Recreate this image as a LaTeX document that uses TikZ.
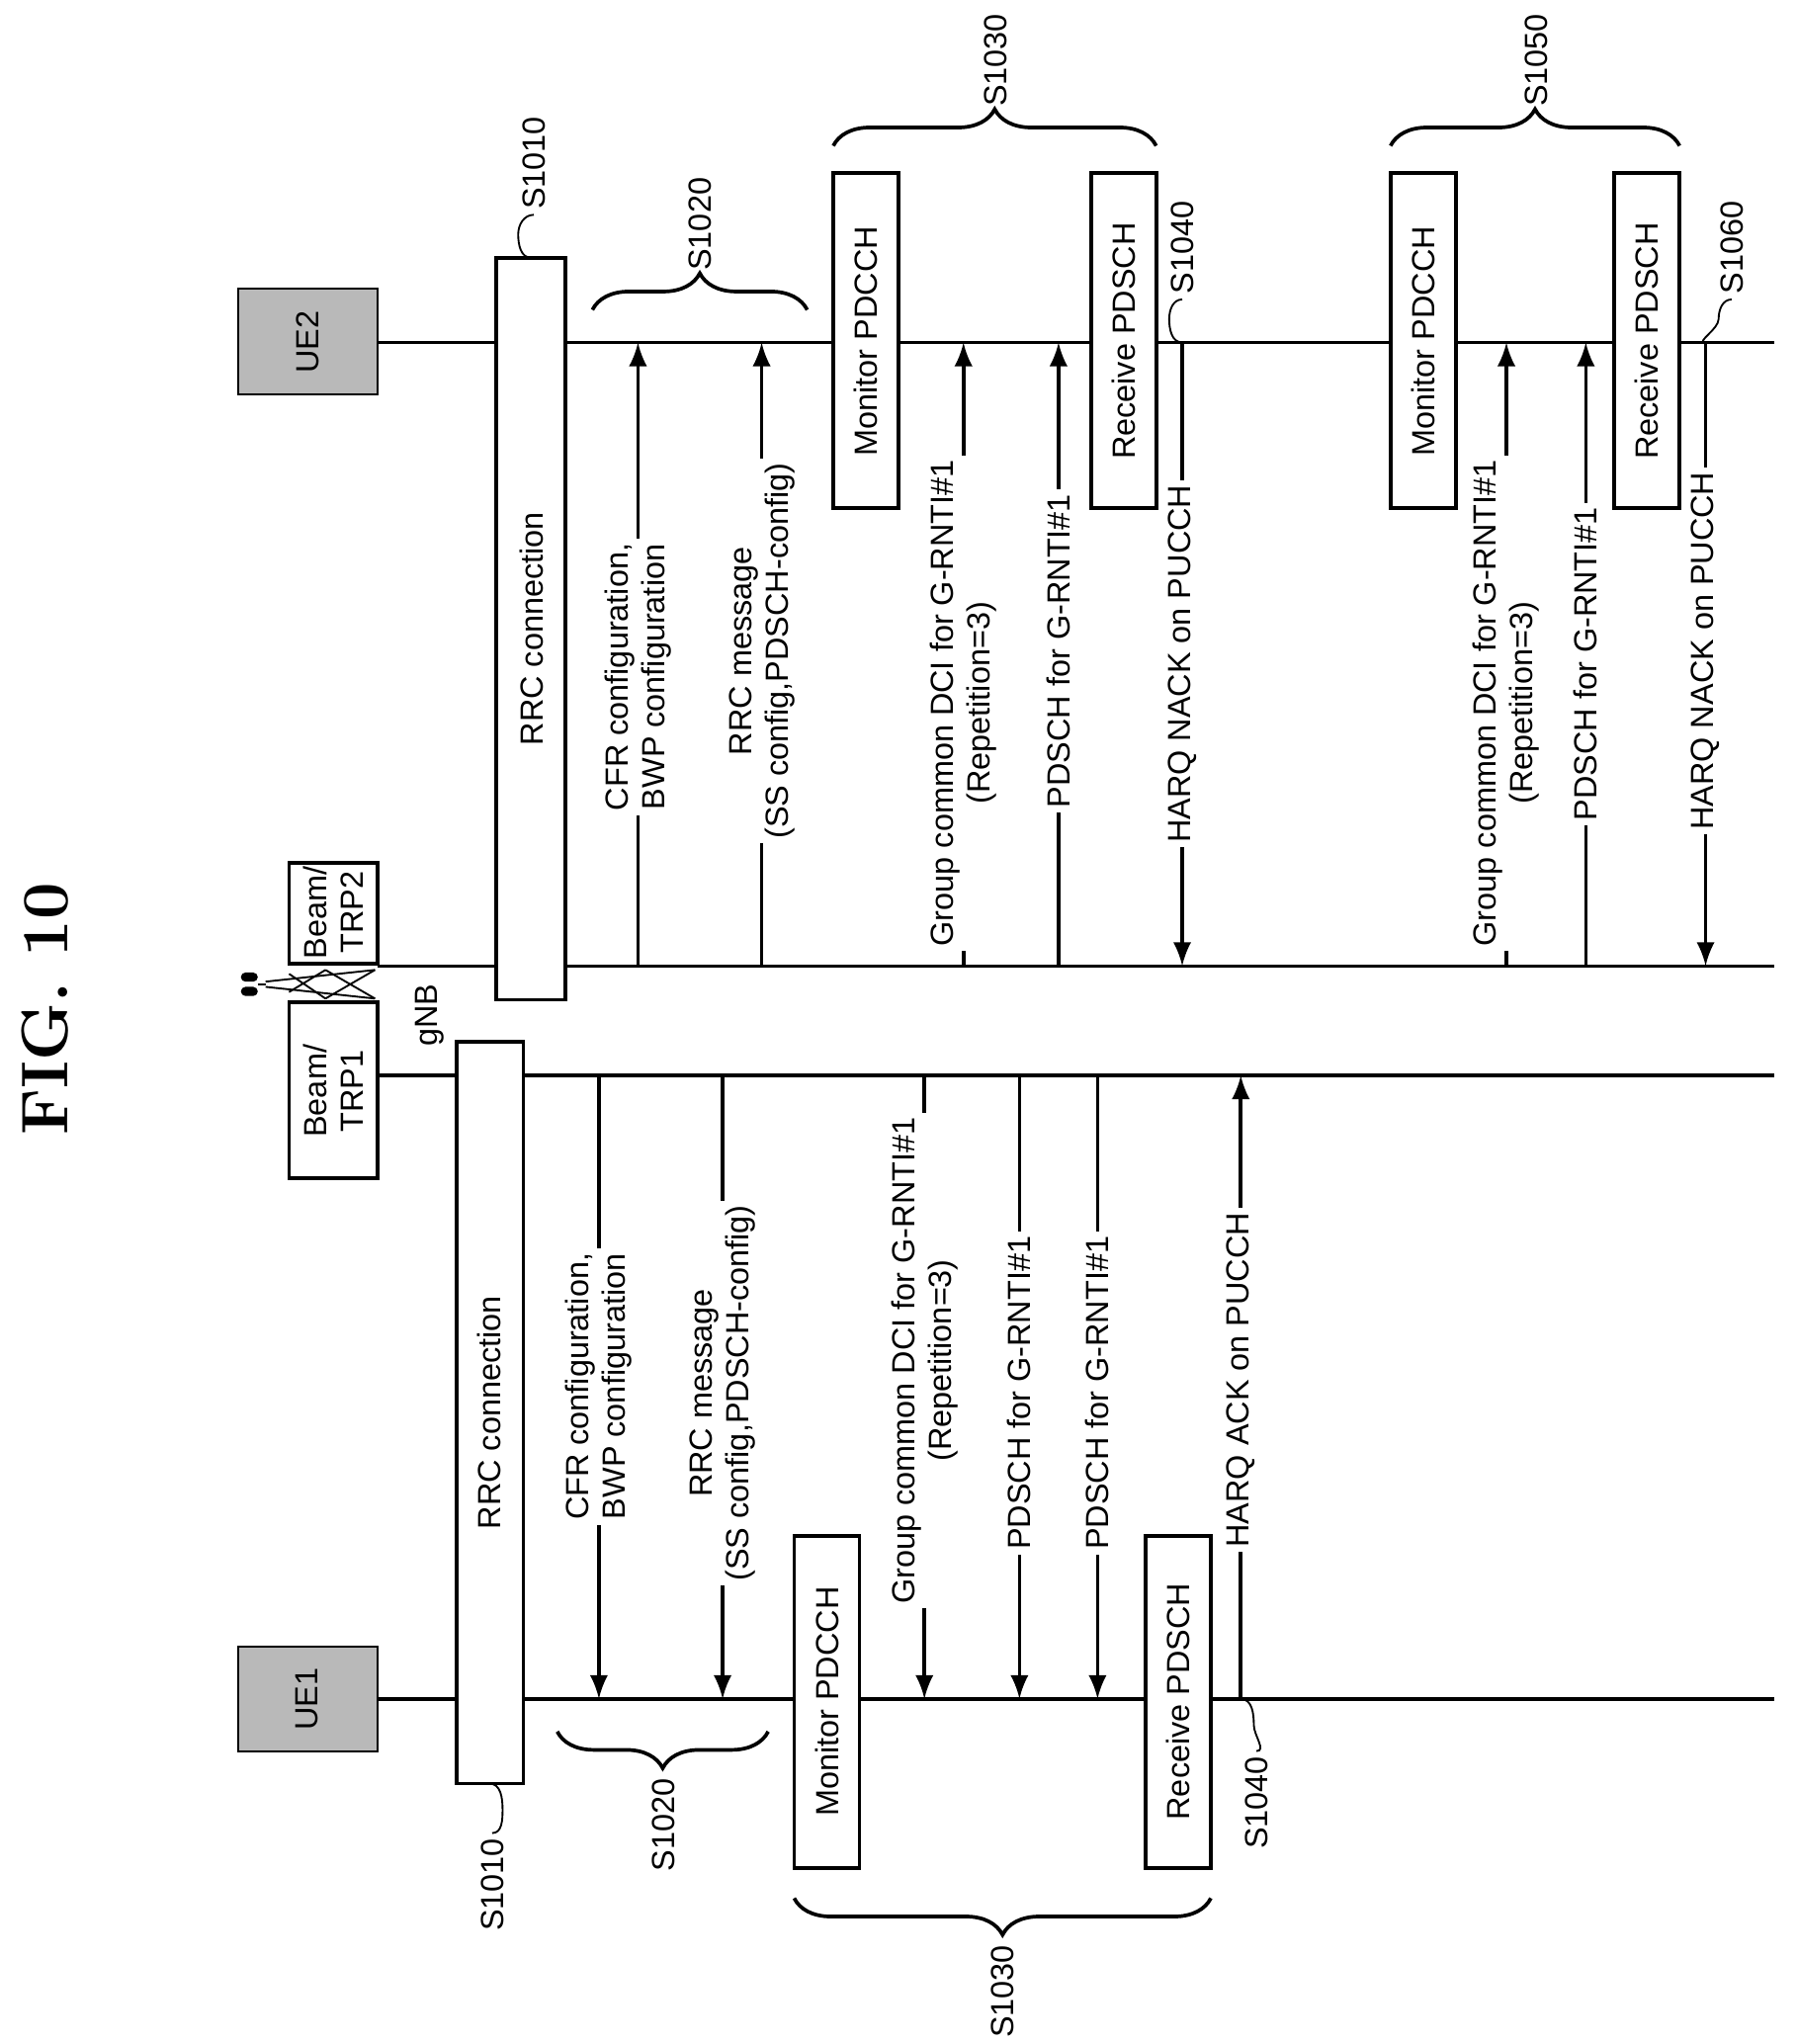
\documentclass[tikz,border=0pt]{standalone}
\usepackage{fontspec}
\setsansfont{Liberation Sans}
\usetikzlibrary{decorations.pathreplacing}
\tikzset{
  lbl/.style={rotate=90,font=\sffamily\fontsize{7}{8}\selectfont,align=center,inner sep=1pt},
  msg/.style={lbl,fill=white},
  box/.style={draw,thick,fill=white},
  life/.style={thick},
  sig/.style={thick,-latex},
  brc/.style={decorate,decoration={brace,amplitude=8pt},thick}
}
\begin{document}
\begin{tikzpicture}[x=0.01cm,y=-0.01cm]
\useasboundingbox (0,0) rectangle (1380,1570);

\node[rotate=90,font=\bfseries\Large] (fig) at (35,775) {FIG. 10};

% terminals
\draw[fill=gray!55] (183,222) rectangle (290,303);
\node[lbl] (ue2) at (236,263) {UE2};
\draw[fill=gray!55] (183,1265) rectangle (290,1345);
\node[lbl] (ue1) at (236,1305) {UE1};

% gNB
\draw[thick] (222,663) rectangle (290,740);
\node[lbl] (trp2) at (256,701) {Beam/\\TRP2};
\draw[thick] (222,770) rectangle (290,905);
\node[lbl] (trp1) at (256,838) {Beam/\\TRP1};
\draw (288,745) -- (204,754) (288,767) -- (204,758);
\draw (288,745) -- (250,767) (288,767) -- (250,745) (250,745) -- (222,762) (250,767) -- (222,748);
\fill[rounded corners=1pt] (185,747) rectangle (198,754) (185,758) rectangle (198,765);
\draw (198,756) -- (204,756);
\node[lbl] (gnb) at (330,780) {gNB};

% lifelines
\draw[life] (290,263) -- (1363,263);
\draw[life] (290,742) -- (1363,742);
\draw[life] (290,826) -- (1363,826);
\draw[life] (290,1305) -- (1363,1305);

% ---------- UE2 side ----------
\draw[box] (381,198) rectangle (434,768);
\node[lbl] (rrc2) at (408,483) {RRC connection};
\draw (408,198) to[out=180,in=-90] (398,180) to[out=90,in=180] (410,165);
\node[lbl,anchor=west] (s1010b) at (410,165) {S1010};

\draw[sig] (490,742) -- (490,263);
\node[msg] (cfr2) at (490,520) {CFR configuration,\\BWP configuration};
\draw[sig] (585,742) -- (585,263);
\node[msg] (rrcm2) at (585,500) {RRC message\\(SS config,PDSCH-config)};
\draw[brc] (455,238) -- (620,238);
\node[lbl,anchor=west] (s1020b) at (538,212) {S1020};

\draw[box] (640,133) rectangle (690,390);
\node[lbl] (mon2a) at (665,262) {Monitor PDCCH};
\draw[box] (838,133) rectangle (888,390);
\node[lbl] (rec2a) at (863,262) {Receive PDSCH};
\draw[brc] (640,112) -- (888,112);
\node[lbl,anchor=west] (s1030b) at (765,86) {S1030};

\draw[sig] (740,742) -- (740,263);
\node[msg] (dci2a) at (740,540) {Group common DCI for G-RNTI\#1\\(Repetition=3)};
\draw[sig] (813,742) -- (813,263);
\node[msg] (pd2a) at (813,500) {PDSCH for G-RNTI\#1};
\draw[sig] (908,263) -- (908,742);
\node[msg] (nack2a) at (908,510) {HARQ NACK on PUCCH};
\draw (908,263) to[out=180,in=-90] (898,245) to[out=90,in=180] (908,230);
\node[lbl,anchor=west] (s1040b) at (908,230) {S1040};

\draw[box] (1068,133) rectangle (1118,390);
\node[lbl] (mon2b) at (1093,262) {Monitor PDCCH};
\draw[box] (1240,133) rectangle (1290,390);
\node[lbl] (rec2b) at (1265,262) {Receive PDSCH};
\draw[brc] (1068,112) -- (1290,112);
\node[lbl,anchor=west] (s1050b) at (1180,86) {S1050};

\draw[sig] (1157,742) -- (1157,263);
\node[msg] (dci2b) at (1157,540) {Group common DCI for G-RNTI\#1\\(Repetition=3)};
\draw[sig] (1218,742) -- (1218,263);
\node[msg] (pd2b) at (1218,510) {PDSCH for G-RNTI\#1};
\draw[sig] (1310,263) -- (1310,742);
\node[msg] (nack2b) at (1310,500) {HARQ NACK on PUCCH};
\draw (1310,263) to[out=180,in=-90] (1320,245) to[out=90,in=180] (1330,230);
\node[lbl,anchor=west] (s1060b) at (1330,230) {S1060};

% ---------- UE1 side ----------
\draw[box] (351,800) rectangle (402,1370);
\node[lbl] (rrc1) at (376,1085) {RRC connection};
\draw (376,1370) to[out=0,in=90] (386,1390) to[out=-90,in=0] (378,1408);
\node[lbl,anchor=east] (s1010a) at (378,1408) {S1010};

\draw[sig] (460,826) -- (460,1305);
\node[msg] (cfr1) at (460,1065) {CFR configuration,\\BWP configuration};
\draw[sig] (555,826) -- (555,1305);
\node[msg] (rrcm1) at (555,1070) {RRC message\\(SS config,PDSCH-config)};
\draw[brc] (590,1330) -- (428,1330);
\node[lbl,anchor=east] (s1020a) at (510,1362) {S1020};

\draw[box] (610,1180) rectangle (660,1435);
\node[lbl] (mon1) at (635,1307) {Monitor PDCCH};
\draw[box] (880,1180) rectangle (930,1435);
\node[lbl] (rec1) at (905,1307) {Receive PDSCH};
\draw[brc] (930,1458) -- (610,1458);
\node[lbl,anchor=east] (s1030a) at (770,1490) {S1030};

\draw[sig] (710,826) -- (710,1305);
\node[msg] (dci1) at (710,1045) {Group common DCI for G-RNTI\#1\\(Repetition=3)};
\draw[sig] (783,826) -- (783,1305);
\node[msg] (pd1a) at (783,1070) {PDSCH for G-RNTI\#1};
\draw[sig] (843,826) -- (843,1305);
\node[msg] (pd1b) at (843,1070) {PDSCH for G-RNTI\#1};
\draw[sig] (953,1305) -- (953,826);
\node[msg] (ack1) at (953,1060) {HARQ ACK on PUCCH};
\draw (953,1305) to[out=0,in=90] (963,1325) to[out=-90,in=0] (965,1345);
\node[lbl,anchor=east] (s1040a) at (965,1345) {S1040};
\end{tikzpicture}
\end{document}
